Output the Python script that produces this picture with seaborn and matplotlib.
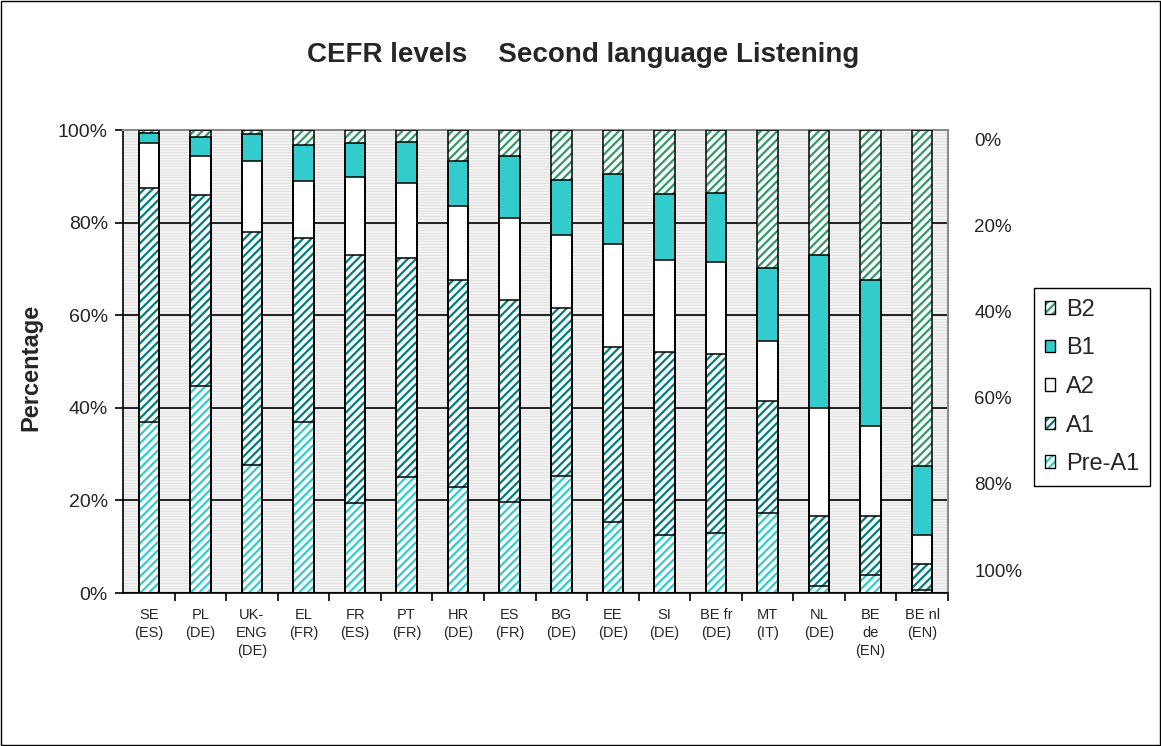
import numpy as np
import pandas as pd
import matplotlib
matplotlib.use("Agg")
import matplotlib.pyplot as plt
from matplotlib.patches import Patch, Rectangle
from matplotlib.ticker import FixedLocator, PercentFormatter
import seaborn as sns

# data (percent of pupils per level)
countries = ["SE\n(ES)", "PL\n(DE)", "UK-\nENG\n(DE)", "EL\n(FR)", "FR\n(ES)", "PT\n(FR)",
             "HR\n(DE)", "ES\n(FR)", "BG\n(DE)", "EE\n(DE)", "SI\n(DE)", "BE fr\n(DE)",
             "MT\n(IT)", "NL\n(DE)", "BE\nde\n(EN)", "BE nl\n(EN)"]
levels = ["Pre-A1", "A1", "A2", "B1", "B2"]
pre_a1 = [36.9, 44.7, 27.6, 36.9, 19.4, 25.1, 23.0, 19.7, 25.3, 15.3, 12.5, 12.9, 17.4, 1.5, 3.9, 0.6]
a1 = [50.5, 41.3, 50.4, 39.7, 53.6, 47.2, 44.6, 43.6, 36.2, 37.9, 39.5, 38.7, 24.1, 15.2, 12.8, 5.7]
a2 = [9.7, 8.4, 15.4, 12.4, 16.8, 16.3, 16.0, 17.8, 15.8, 22.2, 19.9, 20.0, 12.9, 23.3, 19.4, 6.2]
b1 = [2.3, 4.0, 5.7, 7.8, 7.3, 8.9, 9.7, 13.3, 12.0, 15.1, 14.3, 14.7, 15.9, 33.0, 31.5, 15.0]
b2 = [0.6, 1.6, 0.9, 3.2, 2.9, 2.5, 6.7, 5.6, 10.7, 9.5, 13.8, 13.7, 29.7, 27.0, 32.4, 72.5]
left_ticks = [0, 20, 40, 60, 80, 100]
right_ticks = [0, 20, 40, 60, 80, 100]

df = pd.DataFrame({"country": countries, "Pre-A1": pre_a1, "A1": a1, "A2": a2, "B1": b1, "B2": b2})
cum = df[levels].cumsum(axis=1)

# (face, hatch colour, hatch)
styles = {
    "B2": ("white", "#339966", "////"),
    "B1": ("#33CCCC", None, None),
    "A2": ("white", None, None),
    "A1": ("white", "#007F7F", "////"),
    "Pre-A1": ("white", "#33CCCC", "////"),
}

sns.set_theme(style="white")
plt.rcParams["font.family"] = ["Liberation Sans", "DejaVu Sans"]
plt.rcParams["hatch.linewidth"] = 1.6

fig = plt.figure(figsize=(11.61, 7.46), dpi=100)
ax = fig.add_axes([0.106, 0.205, 0.7105, 0.6207])

# striped grey plot area
ax.set_facecolor("#d6d6d6")
ax.add_patch(Rectangle((0, 0), 1, 1, transform=ax.transAxes, facecolor="none",
                       edgecolor="#f2f2f2", hatch="------", lw=0, zorder=0))

# stacked bars: draw cumulative totals from the top level down
for lvl in reversed(levels):
    n0 = len(ax.patches)
    sns.barplot(x=df["country"], y=cum[lvl], order=countries, ax=ax, width=0.4,
                errorbar=None, color="white")
    face, hc, hatch = styles[lvl]
    for p in ax.patches[n0:]:
        p.set_facecolor(face)
        if hatch:
            p.set_edgecolor(hc)
            p.set_hatch(hatch)
        p.set_linewidth(0)
        p.set_zorder(2)

# black outlines
for lvl in reversed(levels):
    n0 = len(ax.patches)
    sns.barplot(x=df["country"], y=cum[lvl], order=countries, ax=ax, width=0.4,
                errorbar=None, color="white")
    for p in ax.patches[n0:]:
        p.set_facecolor("none")
        p.set_edgecolor("black")
        p.set_linewidth(1.1)
        p.set_zorder(3)

ax.set_xlim(-0.5, len(countries) - 0.5)
ax.set_ylim(0, 100)
ax.set_xlabel("")
ax.set_ylabel("")
ax.yaxis.set_major_locator(FixedLocator(left_ticks))
ax.yaxis.set_major_formatter(PercentFormatter(decimals=0))
ax.grid(axis="y", color="black", lw=1.2)
ax.grid(axis="x", visible=False)
ax.set_axisbelow(True)

for s in ["top", "right"]:
    ax.spines[s].set_color("#8c8c8c")
    ax.spines[s].set_linewidth(1.5)
for s in ["left", "bottom"]:
    ax.spines[s].set_color("black")
    ax.spines[s].set_linewidth(1.2)

ax.tick_params(axis="y", left=True, direction="out", length=6, width=1.2, color="black",
               labelsize=14, pad=5)
ax.set_xticks(np.arange(len(countries)) + 0.5, minor=True)
ax.tick_params(axis="x", which="minor", bottom=True, direction="out", length=6, width=1.2,
               color="black")
ax.tick_params(axis="x", which="major", bottom=True, length=0, labelsize=10.5, pad=11)
for t in ax.get_xticklabels():
    t.set_linespacing(1.35)
    t.set_verticalalignment("top")

# inverted scale on the right
ax2 = ax.twinx()
ax2.set_ylim(105.3, -2.1)
ax2.yaxis.set_major_locator(FixedLocator(right_ticks))
ax2.yaxis.set_major_formatter(PercentFormatter(decimals=0))
ax2.tick_params(axis="y", right=True, length=0, labelsize=13.5, pad=19)
for s in ax2.spines.values():
    s.set_visible(False)
ax2.grid(False)

fig.text(0.502, 0.926, "CEFR levels    Second language Listening", ha="center", va="center",
         fontsize=20, fontweight="bold")
fig.text(0.027, 1 - 367 / 746, "Percentage", rotation=90, ha="center", va="center",
         fontsize=17, fontweight="bold")

handles = []
for lvl in reversed(levels):
    face, hc, hatch = styles[lvl]
    if hatch:
        handles.append((Patch(facecolor=face, edgecolor=hc, hatch=hatch, lw=0),
                        Patch(facecolor="none", edgecolor="black", lw=1)))
    else:
        handles.append(Patch(facecolor=face, edgecolor="black", lw=1))
leg = fig.legend(handles, list(reversed(levels)), loc="center left",
                 bbox_to_anchor=(1034 / 1161, 1 - 387 / 746), frameon=True, fancybox=False,
                 edgecolor="black", framealpha=1, fontsize=17, handlelength=0.45,
                 handleheight=0.45, labelspacing=0.7, handletextpad=0.45, borderpad=0.45,
                 borderaxespad=0)
leg.get_frame().set_linewidth(1.0)

fig.add_artist(Rectangle((0.001, 0.001), 0.998, 0.997, transform=fig.transFigure,
                         fill=False, edgecolor="black", lw=1))

fig.savefig("out.png", dpi=100)
